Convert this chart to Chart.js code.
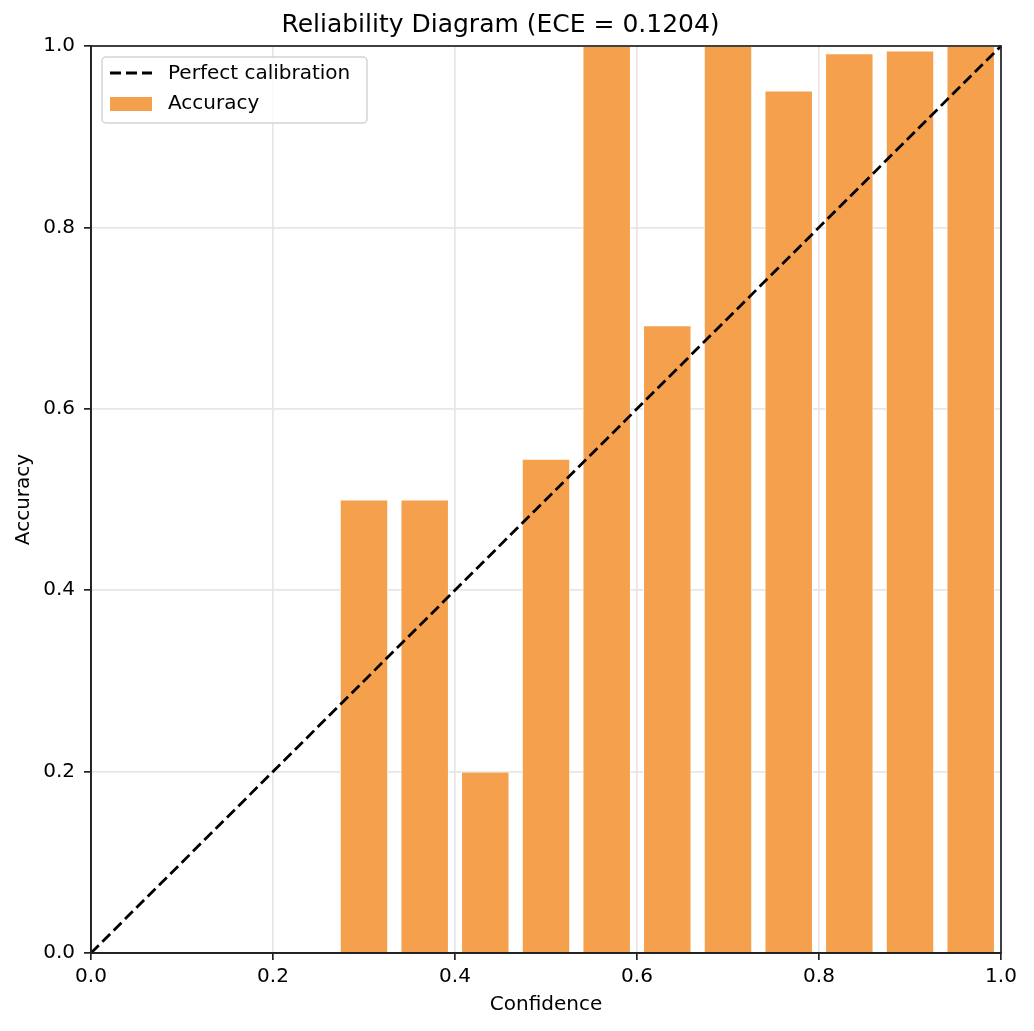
<!DOCTYPE html>
<html>
<head>
<meta charset="utf-8">
<script src="https://cdn.jsdelivr.net/npm/chart.js@4"></script>
<style>
  body { margin: 0; background: #fff; }
  #wrap { width: 1034px; height: 1031px; position: relative; }
</style>
</head>
<body>
<div id="wrap"><canvas id="reliability"></canvas></div>
<script>
// 15 confidence bins, empty bins have no bar
const binCenters = [
  0.0333, 0.1, 0.1667, 0.2333, 0.3, 0.3667, 0.4333, 0.5,
  0.5667, 0.6333, 0.7, 0.7667, 0.8333, 0.9, 0.9667,
];
const binAccuracy = [
  null, null, null, null, 0.5, 0.5, 0.2, 0.545,
  1.0, 0.692, 1.0, 0.951, 0.992, 0.995, 1.0,
];
const diagonalX = [0, 1];
const diagonalY = [0, 1];
const tickValues = [0, 0.2, 0.4, 0.6, 0.8, 1.0];

const FONT = "'DejaVu Sans', sans-serif";
const ORANGE = "rgb(244, 160, 77)";

// frame on all four sides like matplotlib axes
const frame = {
  id: "frame",
  afterDatasetsDraw(chart) {
    const { ctx, chartArea: a } = chart;
    ctx.save();
    ctx.strokeStyle = "#222";
    ctx.lineWidth = 1.7;
    ctx.strokeRect(a.left, a.top, a.right - a.left, a.bottom - a.top);
    ctx.restore();
  },
};

// legend box in upper left corner
const boxLegend = {
  id: "boxLegend",
  afterDraw(chart) {
    const { ctx, chartArea: a } = chart;
    const ds = chart.data.datasets;
    const x = a.left + 11;
    const y = a.top + 11;
    const w = 265;
    const h = 66;
    ctx.save();
    ctx.fillStyle = "rgba(255,255,255,0.8)";
    ctx.strokeStyle = "#d4d4d4";
    ctx.lineWidth = 1.5;
    ctx.beginPath();
    ctx.roundRect(x, y, w, h, 4);
    ctx.fill();
    ctx.stroke();

    // dashed line sample
    ctx.strokeStyle = "#000";
    ctx.lineWidth = 2.8;
    ctx.setLineDash([11, 5]);
    ctx.beginPath();
    ctx.moveTo(x + 8, y + 16);
    ctx.lineTo(x + 50, y + 16);
    ctx.stroke();
    ctx.setLineDash([]);

    // bar sample
    ctx.fillStyle = ORANGE;
    ctx.fillRect(x + 8, y + 40, 42, 14);

    ctx.fillStyle = "#000";
    ctx.font = "20px " + FONT;
    ctx.textBaseline = "middle";
    ctx.fillText(ds[0].label, x + 66, y + 17);
    ctx.fillText(ds[1].label, x + 66, y + 47);
    ctx.restore();
  },
};

new Chart(document.getElementById("reliability"), {
  type: "bar",
  data: {
    datasets: [
      {
        type: "line",
        label: "Perfect calibration",
        data: diagonalX.map((v, i) => ({ x: v, y: diagonalY[i] })),
        borderColor: "#000",
        borderWidth: 2.8,
        borderDash: [11, 5],
        pointRadius: 0,
        fill: false,
        clip: false,
        order: 0,
      },
      {
        label: "Accuracy",
        data: binCenters.map((v, i) => ({ x: v, y: binAccuracy[i] })),
        backgroundColor: ORANGE,
        borderColor: "#fff",
        borderWidth: 1,
        borderSkipped: "start",
        barPercentage: 0.8,
        categoryPercentage: 1,
        order: 1,
      },
    ],
  },
  options: {
    responsive: true,
    maintainAspectRatio: false,
    devicePixelRatio: 1,
    animation: false,
    layout: { padding: { left: 0, right: 33, top: 0, bottom: 0 } },
    plugins: {
      legend: { display: false },
      tooltip: { enabled: false },
      title: {
        display: true,
        text: "Reliability Diagram (ECE = 0.1204)",
        color: "#000",
        font: { family: FONT, size: 25, weight: "normal" },
        padding: { top: 10, bottom: 6 },
      },
    },
    scales: {
      x: {
        type: "linear",
        min: 0,
        max: 1,
        offset: false,
        afterBuildTicks(scale) {
          scale.ticks = tickValues.map((v) => ({ value: v }));
        },
        afterFit(scale) {
          scale.height = 78;
        },
        ticks: {
          color: "#000",
          font: { family: FONT, size: 20 },
          padding: 5,
          callback: (v) => v.toFixed(1),
        },
        grid: {
          offset: false,
          color: "#e6e6e6",
          lineWidth: 1.7,
          tickColor: "#222",
          tickLength: 7,
          tickWidth: 1.7,
        },
        border: { color: "#222", width: 1.7 },
        title: {
          display: true,
          text: "Confidence",
          color: "#000",
          font: { family: FONT, size: 20 },
          padding: { top: 14, bottom: 14 },
        },
      },
      y: {
        min: 0,
        max: 1,
        afterBuildTicks(scale) {
          scale.ticks = tickValues.map((v) => ({ value: v }));
        },
        afterFit(scale) {
          scale.width = 91;
        },
        ticks: {
          color: "#000",
          font: { family: FONT, size: 20 },
          padding: 9,
          callback: (v) => v.toFixed(1),
        },
        grid: {
          color: "#e6e6e6",
          lineWidth: 1.7,
          tickColor: "#222",
          tickLength: 7,
          tickWidth: 1.7,
        },
        border: { color: "#222", width: 1.7 },
        title: {
          display: true,
          text: "Accuracy",
          color: "#000",
          font: { family: FONT, size: 20 },
          padding: { top: 12, bottom: 12 },
        },
      },
    },
  },
  plugins: [frame, boxLegend],
});
</script>
</body>
</html>
